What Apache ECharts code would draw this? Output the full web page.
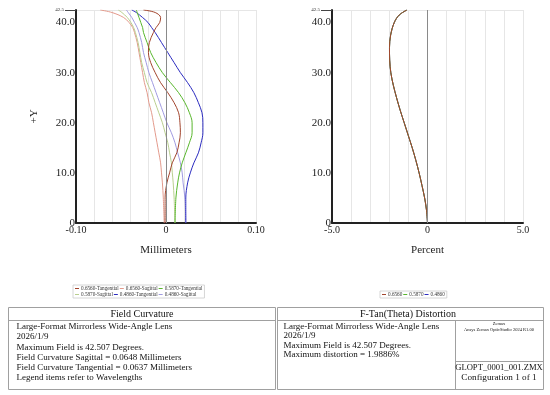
<!DOCTYPE html>
<html>
<head>
<meta charset="utf-8">
<script src="https://cdn.jsdelivr.net/npm/echarts@6/dist/echarts.min.js"></script>
<style>
  html, body { margin: 0; padding: 0; background: #ffffff; }
  #chart { width: 550px; height: 395px; }
</style>
</head>
<body>
<div id="chart"></div>
<script>
// ---- Field curvature data (field Y in degrees, focus shift in mm) ----
const fieldY     = [0, 5, 8, 10, 12, 14, 16, 18, 20, 22, 24, 26, 28, 30, 32, 34, 36, 38, 39, 40, 41, 42, 42.5];
const redTan     = [-0.001, -0.001, 0.001, 0.004, 0.007, 0.012, 0.0145, 0.016, 0.0155, 0.014, 0.009, 0.002, -0.006, -0.012, -0.017, -0.0195, -0.0185, -0.014, -0.011, -0.007, -0.006, -0.012, -0.025];
const redSag     = [-0.002, -0.003, -0.004, -0.005, -0.006, -0.008, -0.010, -0.012, -0.014, -0.016, -0.019, -0.021, -0.024, -0.026, -0.028, -0.030, -0.032, -0.035, -0.037, -0.041, -0.047, -0.060, -0.073];
const greenTan   = [0.010, 0.011, 0.013, 0.015, 0.018, 0.022, 0.026, 0.029, 0.029, 0.026, 0.021, 0.014, 0.005, -0.004, -0.011, -0.017, -0.021, -0.025, -0.026, -0.028, -0.030, -0.032, -0.033];
const greenSag   = [0.010, 0.009, 0.008, 0.007, 0.006, 0.004, 0.002, -0.001, -0.004, -0.008, -0.012, -0.016, -0.021, -0.024, -0.027, -0.029, -0.031, -0.034, -0.036, -0.039, -0.043, -0.049, -0.053];
const blueTan    = [0.022, 0.022, 0.024, 0.027, 0.031, 0.036, 0.039, 0.041, 0.041, 0.040, 0.036, 0.031, 0.024, 0.016, 0.009, 0.002, -0.005, -0.012, -0.016, -0.020, -0.026, -0.033, -0.038];
const blueSag    = [0.022, 0.021, 0.019, 0.018, 0.016, 0.013, 0.010, 0.006, 0.001, -0.003, -0.007, -0.011, -0.015, -0.019, -0.022, -0.025, -0.027, -0.030, -0.032, -0.035, -0.038, -0.042, -0.044];

// ---- Distortion data (percent) ----
const distY      = [0, 2.5, 5, 7.5, 10, 12.5, 15, 17.5, 20, 22.5, 25, 27.5, 30, 32.5, 35, 37.5, 40, 41.5, 42.5];
const distRed    = [0, -0.05, -0.15, -0.29, -0.44, -0.61, -0.80, -1.01, -1.22, -1.43, -1.62, -1.79, -1.92, -1.98, -1.99, -1.93, -1.74, -1.48, -1.08];
const distGreen  = [0, -0.05, -0.15, -0.29, -0.44, -0.61, -0.80, -1.01, -1.22, -1.43, -1.62, -1.79, -1.92, -1.98, -1.99, -1.93, -1.74, -1.48, -1.08];
const distBlue   = [0, -0.05, -0.15, -0.29, -0.44, -0.61, -0.80, -1.01, -1.22, -1.43, -1.62, -1.79, -1.92, -1.98, -1.99, -1.93, -1.74, -1.48, -1.08];

const fcNames   = ['0.6560-Tangential', '0.6560-Sagittal', '0.5870-Tangential', '0.5870-Sagittal', '0.4860-Tangential', '0.4860-Sagittal'];
const distNames = ['0.6560', '0.5870', '0.4860'];
const yMax = 42.5;

const C = {
  redT: '#a2452e', redS: '#e39a8c',
  greenT: '#58b62c', greenS: '#b9cf8f',
  blueT: '#2b2bbf', blueS: '#a09ae0'
};
const SERIF = '"Liberation Serif", "Times New Roman", serif';

function pairs(xs, ys) { return ys.map((y, i) => [xs[i], y]); }

const zeroLine = { silent: true, symbol: 'none', label: { show: false },
  lineStyle: { color: '#8a8a8a', width: 1, type: 'solid' }, data: [{ xAxis: 0 }] };

function fcSeries(name, xs, color, withZero) {
  const s = {
    name, type: 'line', xAxisIndex: 0, yAxisIndex: 0,
    data: pairs(xs, fieldY), smooth: 0.35, showSymbol: false,
    lineStyle: { color, width: 1 }, itemStyle: { color }, z: 3
  };
  if (withZero) s.markLine = zeroLine;
  return s;
}
function distSeries(name, xs, color, withZero) {
  const s = {
    name, type: 'line', xAxisIndex: 1, yAxisIndex: 1,
    data: pairs(xs, distY), smooth: 0.35, showSymbol: false,
    lineStyle: { color, width: 1 }, itemStyle: { color }, z: 3
  };
  if (withZero) s.markLine = zeroLine;
  return s;
}

function yAxisCfg(gridIndex, withName) {
  return {
    type: 'value', gridIndex, min: 0, max: yMax, interval: 5,
    name: withName ? '+Y' : '', nameLocation: 'middle', nameRotate: 90, nameGap: 36,
    nameTextStyle: { fontFamily: SERIF, fontSize: 11, color: '#222' },
    axisLine: { show: true, onZero: false, lineStyle: { color: '#222', width: 2 } },
    axisTick: { show: true, customValues: [42.5], length: 11, lineStyle: { color: '#444', width: 1 } },
    splitLine: { show: true, lineStyle: { color: '#e6e6e6', width: 1 } },
    axisLabel: {
      showMaxLabel: true, showMinLabel: true, margin: 1,
      fontFamily: SERIF, fontSize: 11, color: '#222',
      formatter: function (v) {
        if (Math.abs(v - 42.5) < 1e-6) return '{s|42.5}';
        if (Math.abs(v) < 1e-9) return '0';
        if (Math.abs(v % 10) < 1e-6) return v.toFixed(1);
        return '';
      },
      rich: { s: { fontFamily: SERIF, fontSize: 5, color: '#333', padding: [0, 11, 0, 0] } }
    }
  };
}
function xAxisCfg(gridIndex, min, max, interval, name, fmt) {
  return {
    type: 'value', gridIndex, min, max, interval,
    name, nameLocation: 'middle', nameGap: 22,
    nameTextStyle: { fontFamily: SERIF, fontSize: 11, color: '#222' },
    axisLine: { show: true, onZero: false, lineStyle: { color: '#222', width: 2 } },
    axisTick: { show: false },
    splitLine: { show: true, lineStyle: { color: '#e6e6e6', width: 1 } },
    axisLabel: { margin: 2, fontFamily: SERIF, fontSize: 10, color: '#222',
      showMinLabel: true, showMaxLabel: true, formatter: fmt }
  };
}

const chart = echarts.init(document.getElementById('chart'), null, { renderer: 'canvas' });

const tableLine = '#a0a0a0';
const txt = (x, y, text, size, align) => ({
  type: 'text', x, y, silent: true,
  style: { text, fontFamily: SERIF, fontSize: size, fill: '#111', align: align || 'left', verticalAlign: 'middle' }
});

const option = {
  animation: false,
  backgroundColor: '#ffffff',
  grid: [
    { left: 76, top: 10, width: 180, height: 213 },
    { left: 332, top: 10, width: 191, height: 213 }
  ],
  xAxis: [
    xAxisCfg(0, -0.1, 0.1, 0.02, 'Millimeters', function (v) {
      if (Math.abs(v) < 1e-9) return '0';
      if (Math.abs(Math.abs(v) - 0.1) < 1e-9) return v.toFixed(2);
      return '';
    }),
    xAxisCfg(1, -5, 5, 1, 'Percent', function (v) {
      if (Math.abs(v) < 1e-9) return '0';
      if (Math.abs(Math.abs(v) - 5) < 1e-9) return v.toFixed(1);
      return '';
    })
  ],
  yAxis: [yAxisCfg(0, true), yAxisCfg(1, false)],
  legend: [
    {
      data: fcNames, left: 73, top: 285, width: 140, orient: 'horizontal',
      itemGap: 1, itemWidth: 4, itemHeight: 1, icon: 'rect',
      padding: [1, 2, 1, 2], borderColor: '#cccccc', borderWidth: 0.8,
      textStyle: { fontFamily: SERIF, fontSize: 5.2, color: '#333', padding: [0, 0, 0, -3] },
      selectedMode: false
    },
    {
      data: distNames, left: 380, top: 291, orient: 'horizontal',
      itemGap: 1, itemWidth: 4, itemHeight: 1, icon: 'rect',
      padding: [1, 2, 1, 2], borderColor: '#cccccc', borderWidth: 0.8,
      textStyle: { fontFamily: SERIF, fontSize: 5.2, color: '#333', padding: [0, 0, 0, -3] },
      selectedMode: false
    }
  ],
  series: [
    fcSeries(fcNames[1], redSag, C.redS, true),
    fcSeries(fcNames[3], greenSag, C.greenS),
    fcSeries(fcNames[5], blueSag, C.blueS),
    fcSeries(fcNames[4], blueTan, C.blueT),
    fcSeries(fcNames[2], greenTan, C.greenT),
    fcSeries(fcNames[0], redTan, C.redT),
    distSeries(distNames[2], distBlue, C.blueT, true),
    distSeries(distNames[1], distGreen, C.greenT),
    distSeries(distNames[0], distRed, C.redT)
  ],
  graphic: [
    // left panel
    { type: 'rect', silent: true, shape: { x: 8.5, y: 307.5, width: 267, height: 82 }, style: { fill: 'none', stroke: tableLine, lineWidth: 1 } },
    { type: 'line', silent: true, shape: { x1: 8.5, y1: 320.5, x2: 275.5, y2: 320.5 }, style: { stroke: tableLine, lineWidth: 1 } },
    txt(142, 314, 'Field Curvature', 10, 'center'),
    txt(16.5, 326.5, 'Large-Format Mirrorless Wide-Angle Lens', 9),
    txt(16.5, 337, '2026/1/9', 9),
    txt(16.5, 347.5, 'Maximum Field is 42.507 Degrees.', 9),
    txt(16.5, 357.7, 'Field Curvature Sagittal = 0.0648 Millimeters', 9),
    txt(16.5, 367.9, 'Field Curvature Tangential = 0.0637 Millimeters', 9),
    txt(16.5, 378.1, 'Legend items refer to Wavelengths', 9),
    // right panel
    { type: 'rect', silent: true, shape: { x: 277.5, y: 307.5, width: 266, height: 82 }, style: { fill: 'none', stroke: tableLine, lineWidth: 1 } },
    { type: 'line', silent: true, shape: { x1: 277.5, y1: 320.5, x2: 543.5, y2: 320.5 }, style: { stroke: tableLine, lineWidth: 1 } },
    { type: 'line', silent: true, shape: { x1: 455.5, y1: 320.5, x2: 455.5, y2: 389.5 }, style: { stroke: tableLine, lineWidth: 1 } },
    { type: 'line', silent: true, shape: { x1: 455.5, y1: 361.5, x2: 543.5, y2: 361.5 }, style: { stroke: tableLine, lineWidth: 1 } },
    txt(408, 314, 'F-Tan(Theta) Distortion', 10, 'center'),
    txt(283.5, 326.5, 'Large-Format Mirrorless Wide-Angle Lens', 9),
    txt(283.5, 336, '2026/1/9', 9),
    txt(283.5, 345.5, 'Maximum Field is 42.507 Degrees.', 9),
    txt(283.5, 355, 'Maximum distortion = 1.9886%', 9),
    txt(499, 323.5, 'Zemax', 4.5, 'center'),
    txt(499, 329.5, 'Ansys Zemax OpticStudio 2024 R1.00', 4.5, 'center'),
    txt(499, 367.5, 'GLOPT_0001_001.ZMX', 8.6, 'center'),
    txt(499, 377.5, 'Configuration 1 of 1', 9.2, 'center')
  ]
};
chart.setOption(option);
</script>
</body>
</html>
